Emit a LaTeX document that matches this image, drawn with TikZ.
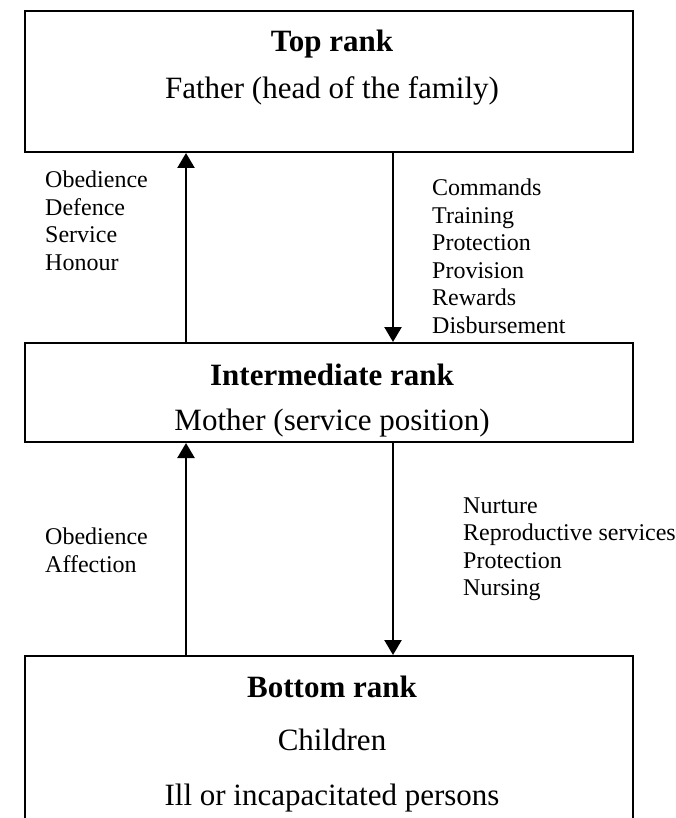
\documentclass[tikz,border=0pt]{standalone}
\usepackage{fontspec}
\setmainfont{Liberation Serif}
\usetikzlibrary{arrows.meta}
\begin{document}
\begin{tikzpicture}[x=1pt,y=-1pt,
  rankbox/.style={draw, line width=2pt, minimum width=608pt, inner sep=0pt},
  ranktitle/.style={font=\fontsize{31}{36}\selectfont\bfseries, anchor=base, inner sep=0pt},
  rankbody/.style={font=\fontsize{31}{36}\selectfont, anchor=base, inner sep=0pt},
  flow/.style={line width=2.4pt, -{Triangle[width=17pt,length=15pt]}},
  duty/.style={font=\fontsize{24}{27.6}\selectfont, align=left, anchor=north west, inner sep=0pt}]
\path[use as bounding box, clip] (0,0) rectangle (675,818);

% the three ranks
\node[rankbox, minimum height=141pt] (top) at (329,81.5) {};
\node[rankbox, minimum height=99pt]  (mid) at (329,392.5) {};
\node[rankbox, minimum height=184pt] (bot) at (329,748) {};

\node[ranktitle] (toptitle) at (332,52)  {Top rank};
\node[rankbody]  (topbody)  at (332,99)  {Father (head of the family)};
\node[ranktitle] (midtitle) at (332,385) {Intermediate rank};
\node[rankbody]  (midbody)  at (332,430) {Mother (service position)};
\node[ranktitle] (bottitle) at (332,697) {Bottom rank};
\node[rankbody]  (botchild) at (332,750) {Children};
\node[rankbody]  (botill)   at (332,805) {Ill or incapacitated persons};

% columns of the upward and downward flows
\coordinate (upx) at (186,0);
\coordinate (downx) at (393,0);

\draw[flow] (mid.north -| upx) -- (top.south -| upx);
\draw[flow] (top.south -| downx) -- (mid.north -| downx);
\draw[flow] (bot.north -| upx) -- (mid.south -| upx);
\draw[flow] (mid.south -| downx) -- (bot.north -| downx);

% what passes along each flow
\node[duty] (upgive)   at (45,170.6)  {Obedience\\Defence\\Service\\Honour};
\node[duty] (downgive) at (432,178.6) {Commands\\Training\\Protection\\Provision\\Rewards\\Disbursement};
\node[duty] (upkids)   at (45,527.6)  {Obedience\\Affection};
\node[duty] (downkids) at (463,497.1) {Nurture\\Reproductive services\\Protection\\Nursing};
\end{tikzpicture}
\end{document}
